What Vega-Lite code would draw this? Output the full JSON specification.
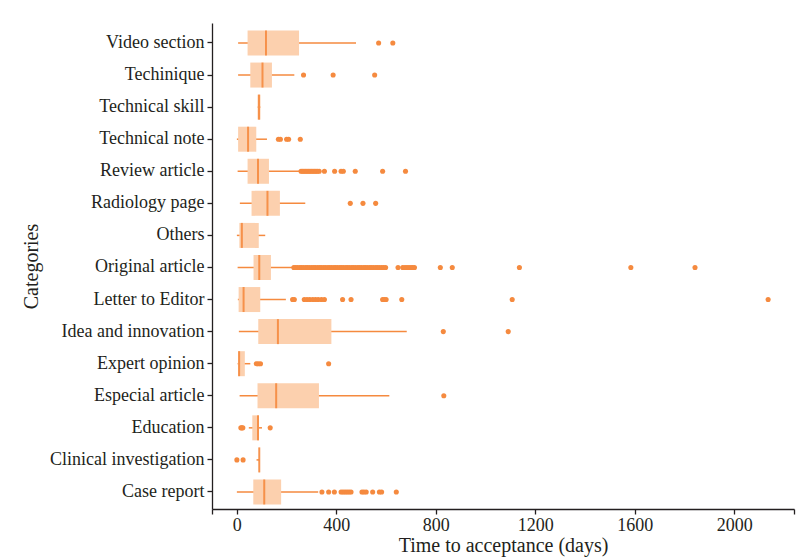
{
  "$schema": "https://vega.github.io/schema/vega-lite/v6.json",
  "width": 582,
  "height": 486,
  "autosize": {"type": "none"},
  "padding": {"left": 212, "top": 23, "right": 8, "bottom": 48},
  "background": "white",
  "config": {
    "font": "Liberation Serif",
    "view": {"stroke": null},
    "axis": {
      "labelFont": "Liberation Serif",
      "titleFont": "Liberation Serif",
      "labelColor": "#231f20",
      "titleColor": "#231f20",
      "domainColor": "#231f20",
      "tickColor": "#231f20",
      "grid": false,
      "labelFontSize": 18,
      "titleFontSize": 20,
      "titleFontWeight": "normal",
      "domainWidth": 1.3,
      "tickWidth": 1.3,
      "tickSize": 5
    }
  },
  "datasets": {
    "stats": [
      {"cat": "Video section", "lower": 5, "q1": 43, "median": 117, "q3": 250, "upper": 479},
      {"cat": "Techinique", "lower": 5, "q1": 54, "median": 103, "q3": 141, "upper": 231},
      {"cat": "Technical skill", "lower": 83, "q1": 83, "median": 89, "q3": 95, "upper": 95},
      {"cat": "Technical note", "lower": 0, "q1": 5, "median": 45, "q3": 78, "upper": 121},
      {"cat": "Review article", "lower": 3, "q1": 43, "median": 85, "q3": 129, "upper": 250},
      {"cat": "Radiology page", "lower": 12, "q1": 59, "median": 123, "q3": 173, "upper": 275},
      {"cat": "Others", "lower": 0, "q1": 10, "median": 20, "q3": 88, "upper": 114},
      {"cat": "Original article", "lower": 3, "q1": 67, "median": 90, "q3": 137, "upper": 224},
      {"cat": "Letter to Editor", "lower": 4, "q1": 7, "median": 27, "q3": 94, "upper": 197},
      {"cat": "Idea and innovation", "lower": 8, "q1": 86, "median": 165, "q3": 380, "upper": 683},
      {"cat": "Expert opinion", "lower": 3, "q1": 5, "median": 9, "q3": 32, "upper": 54},
      {"cat": "Especial article", "lower": 11, "q1": 83, "median": 158, "q3": 330, "upper": 613},
      {"cat": "Education", "lower": 48, "q1": 62, "median": 85, "q3": 89, "upper": 101},
      {"cat": "Clinical investigation", "lower": 79, "q1": 89, "median": 90, "q3": 91, "upper": 91},
      {"cat": "Case report", "lower": 0, "q1": 66, "median": 110, "q3": 178, "upper": 327}
    ],
    "outliers": [
      {"cat": "Video section", "days": 570}, {"cat": "Video section", "days": 627},
      {"cat": "Techinique", "days": 268}, {"cat": "Techinique", "days": 387}, {"cat": "Techinique", "days": 554},
      {"cat": "Technical note", "days": 167}, {"cat": "Technical note", "days": 175}, {"cat": "Technical note", "days": 200}, {"cat": "Technical note", "days": 208}, {"cat": "Technical note", "days": 255},
      {"cat": "Review article", "days": 258}, {"cat": "Review article", "days": 264}, {"cat": "Review article", "days": 270}, {"cat": "Review article", "days": 276}, {"cat": "Review article", "days": 282}, {"cat": "Review article", "days": 288}, {"cat": "Review article", "days": 294}, {"cat": "Review article", "days": 300}, {"cat": "Review article", "days": 306}, {"cat": "Review article", "days": 312}, {"cat": "Review article", "days": 318}, {"cat": "Review article", "days": 324}, {"cat": "Review article", "days": 331}, {"cat": "Review article", "days": 352}, {"cat": "Review article", "days": 393}, {"cat": "Review article", "days": 419}, {"cat": "Review article", "days": 428}, {"cat": "Review article", "days": 476}, {"cat": "Review article", "days": 586}, {"cat": "Review article", "days": 678},
      {"cat": "Radiology page", "days": 456}, {"cat": "Radiology page", "days": 507}, {"cat": "Radiology page", "days": 558},
      {"cat": "Original article", "days": 229}, {"cat": "Original article", "days": 236}, {"cat": "Original article", "days": 244}, {"cat": "Original article", "days": 253}, {"cat": "Original article", "days": 260}, {"cat": "Original article", "days": 268}, {"cat": "Original article", "days": 277}, {"cat": "Original article", "days": 284}, {"cat": "Original article", "days": 292}, {"cat": "Original article", "days": 301}, {"cat": "Original article", "days": 309}, {"cat": "Original article", "days": 316}, {"cat": "Original article", "days": 325}, {"cat": "Original article", "days": 333}, {"cat": "Original article", "days": 340}, {"cat": "Original article", "days": 349}, {"cat": "Original article", "days": 357}, {"cat": "Original article", "days": 366}, {"cat": "Original article", "days": 373}, {"cat": "Original article", "days": 381}, {"cat": "Original article", "days": 390}, {"cat": "Original article", "days": 397}, {"cat": "Original article", "days": 405}, {"cat": "Original article", "days": 414}, {"cat": "Original article", "days": 421}, {"cat": "Original article", "days": 429}, {"cat": "Original article", "days": 438}, {"cat": "Original article", "days": 445}, {"cat": "Original article", "days": 453}, {"cat": "Original article", "days": 462}, {"cat": "Original article", "days": 469}, {"cat": "Original article", "days": 477}, {"cat": "Original article", "days": 486}, {"cat": "Original article", "days": 493}, {"cat": "Original article", "days": 501}, {"cat": "Original article", "days": 510}, {"cat": "Original article", "days": 517}, {"cat": "Original article", "days": 525}, {"cat": "Original article", "days": 534}, {"cat": "Original article", "days": 541}, {"cat": "Original article", "days": 549}, {"cat": "Original article", "days": 558}, {"cat": "Original article", "days": 565}, {"cat": "Original article", "days": 573}, {"cat": "Original article", "days": 582}, {"cat": "Original article", "days": 590}, {"cat": "Original article", "days": 598}, {"cat": "Original article", "days": 648}, {"cat": "Original article", "days": 667}, {"cat": "Original article", "days": 676}, {"cat": "Original article", "days": 684}, {"cat": "Original article", "days": 692}, {"cat": "Original article", "days": 700}, {"cat": "Original article", "days": 707}, {"cat": "Original article", "days": 714}, {"cat": "Original article", "days": 818}, {"cat": "Original article", "days": 866}, {"cat": "Original article", "days": 1136}, {"cat": "Original article", "days": 1584}, {"cat": "Original article", "days": 1842},
      {"cat": "Letter to Editor", "days": 224}, {"cat": "Letter to Editor", "days": 231}, {"cat": "Letter to Editor", "days": 271}, {"cat": "Letter to Editor", "days": 282}, {"cat": "Letter to Editor", "days": 293}, {"cat": "Letter to Editor", "days": 305}, {"cat": "Letter to Editor", "days": 316}, {"cat": "Letter to Editor", "days": 327}, {"cat": "Letter to Editor", "days": 340}, {"cat": "Letter to Editor", "days": 352}, {"cat": "Letter to Editor", "days": 425}, {"cat": "Letter to Editor", "days": 459}, {"cat": "Letter to Editor", "days": 586}, {"cat": "Letter to Editor", "days": 593}, {"cat": "Letter to Editor", "days": 600}, {"cat": "Letter to Editor", "days": 663}, {"cat": "Letter to Editor", "days": 1107}, {"cat": "Letter to Editor", "days": 2136},
      {"cat": "Idea and innovation", "days": 830}, {"cat": "Idea and innovation", "days": 1091},
      {"cat": "Expert opinion", "days": 78}, {"cat": "Expert opinion", "days": 86}, {"cat": "Expert opinion", "days": 95}, {"cat": "Expert opinion", "days": 369},
      {"cat": "Especial article", "days": 832},
      {"cat": "Education", "days": 16}, {"cat": "Education", "days": 20}, {"cat": "Education", "days": 24}, {"cat": "Education", "days": 134},
      {"cat": "Clinical investigation", "days": 0}, {"cat": "Clinical investigation", "days": 25},
      {"cat": "Case report", "days": 342}, {"cat": "Case report", "days": 369}, {"cat": "Case report", "days": 392}, {"cat": "Case report", "days": 419}, {"cat": "Case report", "days": 427}, {"cat": "Case report", "days": 435}, {"cat": "Case report", "days": 443}, {"cat": "Case report", "days": 451}, {"cat": "Case report", "days": 459}, {"cat": "Case report", "days": 503}, {"cat": "Case report", "days": 511}, {"cat": "Case report", "days": 520}, {"cat": "Case report", "days": 546}, {"cat": "Case report", "days": 573}, {"cat": "Case report", "days": 582}, {"cat": "Case report", "days": 641}
    ]
  },
  "resolve": {"scale": {"x": "shared", "y": "shared"}},
  "encoding": {
    "y": {
      "field": "cat",
      "type": "nominal",
      "sort": ["Video section", "Techinique", "Technical skill", "Technical note", "Review article", "Radiology page", "Others", "Original article", "Letter to Editor", "Idea and innovation", "Expert opinion", "Especial article", "Education", "Clinical investigation", "Case report"],
      "scale": {"paddingInner": 0, "paddingOuter": 0.077, "align": 0.8},
      "axis": {"title": "Categories", "labelPadding": 3, "titlePadding": 8}
    }
  },
  "layer": [
    {
      "data": {"name": "stats"},
      "mark": {"type": "rule", "color": "#F58A3F", "strokeWidth": 1.5},
      "encoding": {
        "x": {
          "field": "lower",
          "type": "quantitative",
          "scale": {"domain": [-100, 2240], "nice": false, "zero": false},
          "axis": {
            "title": "Time to acceptance (days)",
            "values": [-100, 0, 400, 800, 1200, 1600, 2000, 2240],
            "format": "d",
            "labelExpr": "datum.value < 0 || datum.value > 2100 ? '' : datum.label",
            "labelPadding": 2,
            "titlePadding": 1,
            "labelFontSize": 18
          }
        },
        "x2": {"field": "upper"}
      }
    },
    {
      "data": {"name": "stats"},
      "mark": {"type": "bar", "color": "#FCD0AE", "size": 25},
      "encoding": {
        "x": {"field": "q1", "type": "quantitative"},
        "x2": {"field": "q3"}
      }
    },
    {
      "data": {"name": "stats"},
      "mark": {"type": "tick", "color": "#F58A3F", "size": 25, "thickness": 2, "opacity": 0.9},
      "encoding": {
        "x": {"field": "median", "type": "quantitative"}
      }
    },
    {
      "data": {"name": "outliers"},
      "mark": {"type": "circle", "color": "#F58A3F", "size": 26, "opacity": 1},
      "encoding": {
        "x": {"field": "days", "type": "quantitative"}
      }
    }
  ]
}
